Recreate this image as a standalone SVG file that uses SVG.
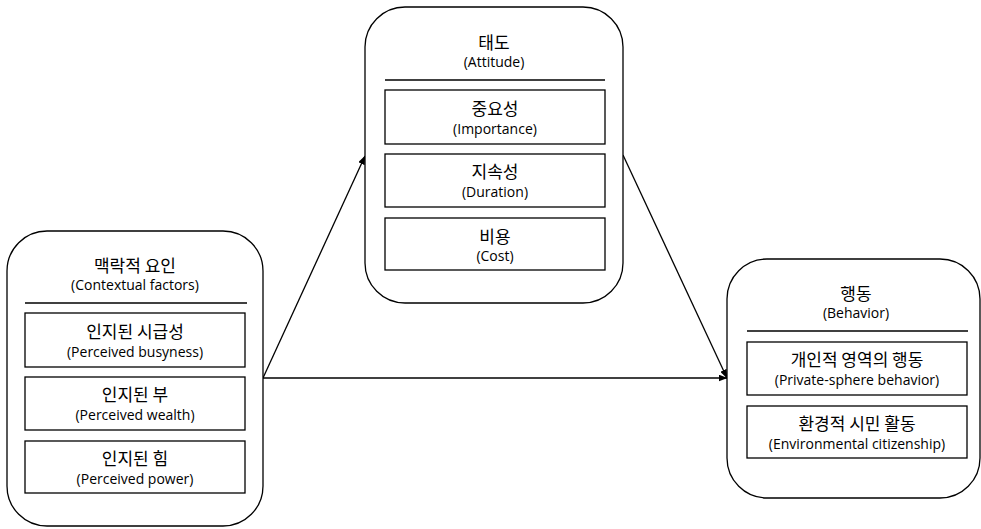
<svg xmlns="http://www.w3.org/2000/svg" width="981" height="529" viewBox="0 0 981 529">
<defs>
<style>
.outer{fill:#fff;stroke:#000;stroke-width:1.3}
.inner{fill:#fff;stroke:#000;stroke-width:1.3}
.div{stroke:#000;stroke-width:1.3}
.ko{font-family:"Noto Sans CJK KR","Malgun Gothic",sans-serif;font-size:17px;fill:#000;text-anchor:middle;dominant-baseline:central}
.en{font-family:"Open Sans","Noto Sans",sans-serif;font-size:14px;fill:#000;text-anchor:middle;dominant-baseline:central}
.conn{stroke:#000;stroke-width:1.3;fill:none}
</style>
<marker id="arr" markerWidth="9" markerHeight="7" refX="8.5" refY="3.5" orient="auto" markerUnits="userSpaceOnUse">
<path d="M0,0 L9,3.5 L0,7 Z" fill="#000"/>
</marker>
</defs>
<rect width="981" height="529" fill="#fff"/>
<g id="connectors">
<line class="conn" x1="263" y1="378" x2="365" y2="156" marker-end="url(#arr)"/>
<line class="conn" x1="263" y1="378" x2="727" y2="378" marker-end="url(#arr)"/>
<line class="conn" x1="623" y1="155" x2="727" y2="378" marker-end="url(#arr)"/>
</g>
<g id="context">
<rect class="outer" x="7" y="231" width="256" height="295" rx="40" ry="40"/>
<text class="ko" x="135" y="264">맥락적 요인</text>
<text class="en" x="135" y="284">(Contextual factors)</text>
<line class="div" x1="25" y1="303" x2="247" y2="303"/>
<g id="ctx1"><rect class="inner" x="25" y="313" width="220" height="54"/>
<text class="ko" x="135" y="330">인지된 시급성</text>
<text class="en" x="135" y="351">(Perceived busyness)</text></g>
<g id="ctx2"><rect class="inner" x="25" y="377" width="220" height="53"/>
<text class="ko" x="135" y="393">인지된 부</text>
<text class="en" x="135" y="414">(Perceived wealth)</text></g>
<g id="ctx3"><rect class="inner" x="25" y="441" width="220" height="52"/>
<text class="ko" x="135" y="457">인지된 힘</text>
<text class="en" x="135" y="478">(Perceived power)</text></g>
</g>
<g id="attitude">
<rect class="outer" x="365" y="7" width="258" height="296" rx="40" ry="40"/>
<text class="ko" x="494" y="41">태도</text>
<text class="en" x="494" y="61">(Attitude)</text>
<line class="div" x1="385" y1="80" x2="605" y2="80"/>
<g id="att1"><rect class="inner" x="385" y="90" width="220" height="54"/>
<text class="ko" x="495" y="107">중요성</text>
<text class="en" x="495" y="128">(Importance)</text></g>
<g id="att2"><rect class="inner" x="385" y="154" width="220" height="53"/>
<text class="ko" x="495" y="170">지속성</text>
<text class="en" x="495" y="191">(Duration)</text></g>
<g id="att3"><rect class="inner" x="385" y="218" width="220" height="52"/>
<text class="ko" x="495" y="235">비용</text>
<text class="en" x="495" y="255">(Cost)</text></g>
</g>
<g id="behavior">
<rect class="outer" x="727" y="259" width="253" height="239" rx="40" ry="40"/>
<text class="ko" x="856" y="292">행동</text>
<text class="en" x="856" y="312">(Behavior)</text>
<line class="div" x1="747" y1="331" x2="968" y2="331"/>
<g id="beh1"><rect class="inner" x="747" y="342" width="220" height="53"/>
<text class="ko" x="857" y="358">개인적 영역의 행동</text>
<text class="en" x="857" y="379">(Private-sphere behavior)</text></g>
<g id="beh2"><rect class="inner" x="747" y="406" width="220" height="52"/>
<text class="ko" x="857" y="422">환경적 시민 활동</text>
<text class="en" x="857" y="443">(Environmental citizenship)</text></g>
</g>
</svg>
